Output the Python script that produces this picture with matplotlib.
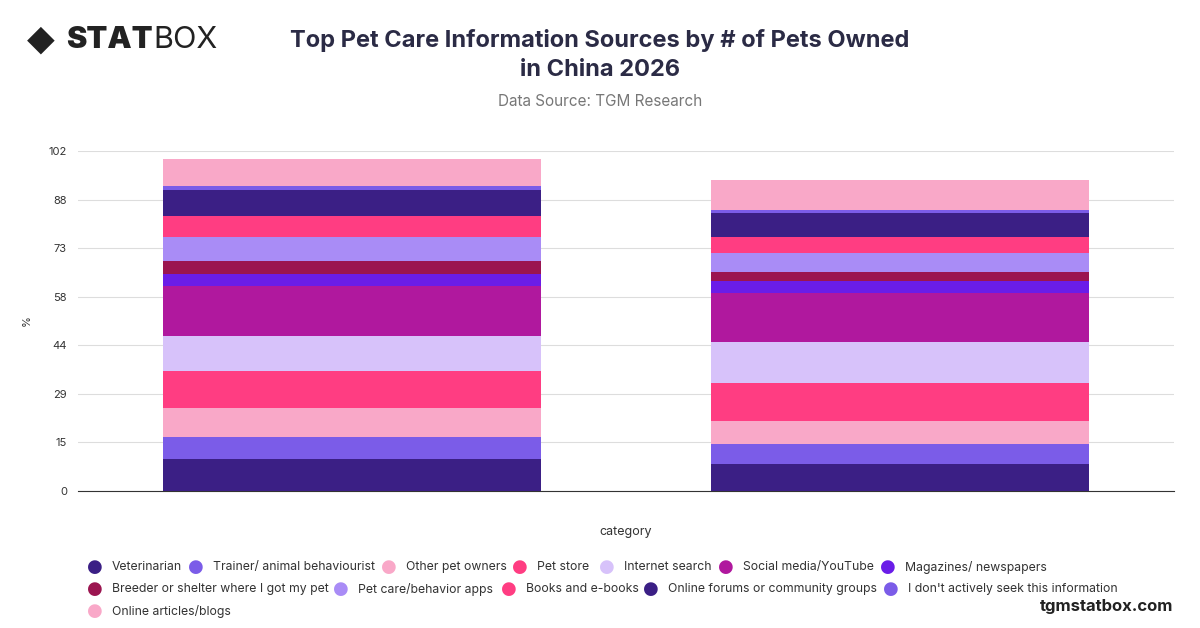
import matplotlib
matplotlib.use("Agg")
import matplotlib.pyplot as plt
import numpy as np

plt.rcParams["font.family"] = ["Inter", "DejaVu Sans"]

groups = ["1 pet", "2+ pets"]
series = ["Veterinarian", "Trainer/ animal behaviourist", "Other pet owners", "Pet store",
          "Internet search", "Social media/YouTube", "Magazines/ newspapers",
          "Breeder or shelter where I got my pet", "Pet care/behavior apps", "Books and e-books",
          "Online forums or community groups", "I don't actively seek this information",
          "Online articles/blogs"]
values_a = [9.6, 6.6, 8.7, 11.1, 10.5, 15.0, 3.6, 3.9, 7.2, 6.3, 7.8, 1.2, 8.1]
values_b = [8.1, 6.0, 6.9, 11.4, 12.3, 14.7, 3.6, 2.7, 5.7, 4.8, 7.2, 0.9, 9.0]
colors = ["#3b1f85", "#7b5ce8", "#f9a8c8", "#ff3d82", "#d7c2fa", "#b0189e", "#6a1de8",
          "#9b1550", "#a98cf6", "#ff3d82", "#3b1f85", "#7b5ce8", "#f9a8c8"]
tick_labels = ["0", "15", "29", "44", "58", "73", "88", "102"]

W, H = 1200, 628
fig = plt.figure(figsize=(12, 6.28), dpi=100)
ax = fig.add_axes([78 / W, 1 - 491 / H, 1096 / W, 340 / H])

x = np.arange(2)
bottom = np.zeros(2)
for name, a, b, c in zip(series, values_a, values_b, colors):
    v = np.array([a, b])
    ax.bar(x, v, bottom=bottom, width=0.69, color=c, label=name, zorder=3)
    bottom += v

ax.set_xlim(-0.5, 1.5)
ax.set_ylim(0, 102)
ax.set_yticks(np.linspace(0, 102, 8))
ax.set_yticklabels(tick_labels, fontsize=8, color="#333333")
ax.set_xticks([])
ax.grid(axis="y", color="#dddddd", linewidth=0.8, zorder=0)
for s in ["top", "right", "left"]:
    ax.spines[s].set_visible(False)
ax.spines["bottom"].set_color("#333333")
ax.tick_params(axis="y", length=0, pad=8)
ax.set_ylabel("%", fontsize=8, color="#333333", labelpad=12)
ax.set_xlabel("category", fontsize=9, color="#333333", labelpad=25)

fig.text(0.5, 1 - 55 / H, "Top Pet Care Information Sources by # of Pets Owned\nin China 2026",
         ha="center", va="center", fontsize=17, weight="bold", color="#2b2b45", linespacing=1.45)
fig.text(0.5, 1 - 101 / H, "Data Source: TGM Research", ha="center", va="center", fontsize=11, color="#777777")
fig.text(0.022, 1 - 40 / H, "◆", fontsize=26, va="center", color="#222222", family=["DejaVu Sans"])
fig.text(0.055, 1 - 40 / H, "STAT", fontsize=22, weight="black", va="center", color="#222222")
fig.text(0.128, 1 - 40 / H, "BOX", fontsize=22, va="center", color="#222222")
fig.text(0.978, 1 - 606 / H, "tgmstatbox.com", ha="right", va="center", fontsize=12, weight="bold", color="#222222")

# legend laid out in rows like the reference
dot_pos = [(95, 567), (196, 567), (389, 567), (520, 567), (607, 567), (726, 567), (888, 567),
           (95, 589), (341, 589), (509, 589), (651, 589), (891, 589),
           (95, 611)]
for (px, py), name, c in zip(dot_pos, series, colors):
    fig.text(px / W, 1 - py / H, "●", fontsize=13, color=c, ha="center", va="center",
             family=["DejaVu Sans"])
    fig.text((px + 17) / W, 1 - py / H, name, fontsize=8.8, color="#333333", va="center")

fig.savefig("out.png", dpi=100)
